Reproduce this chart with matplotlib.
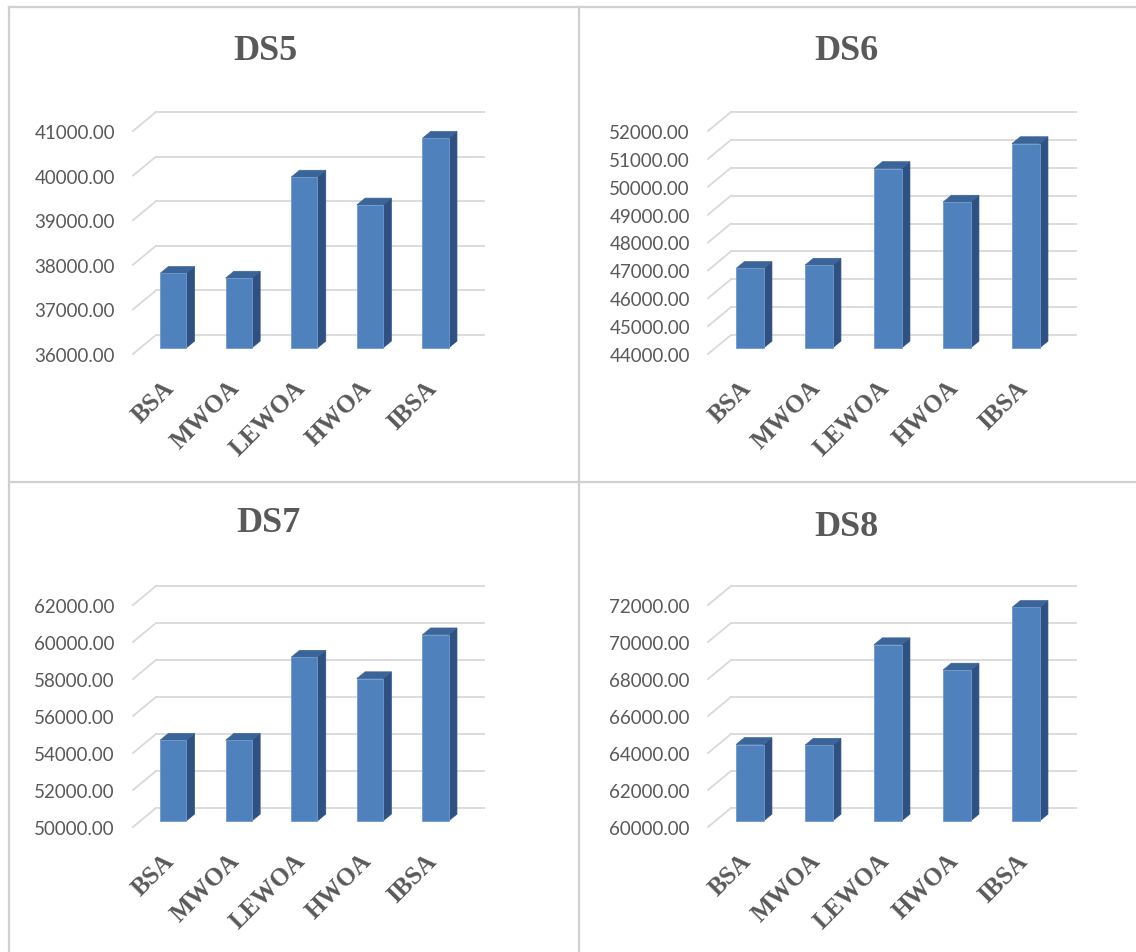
import numpy as np
import matplotlib
matplotlib.use('Agg')
import matplotlib.pyplot as plt
from matplotlib.patches import Polygon
from matplotlib.lines import Line2D

W, H = 1136, 953

algorithms = ['BSA', 'MWOA', 'LEWOA', 'HWOA', 'IBSA']

titles = ['DS5', 'DS6', 'DS7', 'DS8']
ds5 = [37670, 37565, 39830, 39205, 40700]
ds6 = [46850, 46970, 50435, 49230, 51330]
ds7 = [54360, 54360, 58850, 57690, 60060]
ds8 = [64130, 64095, 69525, 68155, 71540]
y_ranges = [(36000, 41000, 1000), (44000, 52000, 1000),
            (50000, 62000, 2000), (60000, 72000, 2000)]

FRONT = '#4F81BD'
SIDE = '#2F5181'
TOP = '#3B6598'
GRID = '#D9D9D9'
TEXT = '#595959'

# 3d look: depth of the back wall in pixels, bar placed in the middle of the depth
DX, DY = 23, 19
D0, D1 = 0.32, 0.68

# panel frames in pixels: front plane x0, x1, y top, y bottom, title x, title y
frames = [(133, 461, 132, 355, 265, 52),
          (708, 1053, 132, 355, 846, 52),
          (133, 461, 606, 828, 268, 524),
          (708, 1053, 606, 828, 846, 527)]

fig = plt.figure(figsize=(W / 100, H / 100), dpi=100)
fig.patch.set_facecolor('white')


def draw_panel(frame, title, values, yr):
    x0, x1, yt, yb, tx, ty = frame
    ymin, ymax, step = yr
    ax = fig.add_axes([x0 / W, 1 - yb / H, (x1 - x0) / W, (yb - yt) / H])
    ax.set_xlim(-0.5, 4.5)
    ax.set_ylim(ymin, ymax)
    ax.set_facecolor('none')
    for s in ax.spines.values():
        s.set_visible(False)

    # pixel offsets in data units
    ddx = DX * 5 / (x1 - x0)
    ddy = DY * (ymax - ymin) / (yb - yt)

    ticks = np.arange(ymin, ymax + step / 2, step)
    for t in ticks:
        ax.add_line(Line2D([-0.5 + ddx, 4.5 + ddx], [t + ddy, t + ddy],
                           color=GRID, lw=1.3, clip_on=False, zorder=1))
        ax.add_line(Line2D([-0.5, -0.5 + ddx], [t, t + ddy],
                           color=GRID, lw=1.3, clip_on=False, zorder=1))

    bw = 0.4
    bd = D1 - D0
    xs = np.arange(len(values))
    for i, v in zip(xs, values):
        left = i - bw / 2 + D0 * ddx
        right = left + bw
        bot = ymin + D0 * ddy
        top = v + D0 * ddy
        side = [(right, bot), (right + bd * ddx, bot + bd * ddy),
                (right + bd * ddx, top + bd * ddy), (right, top)]
        lid = [(left, top), (right, top), (right + bd * ddx, top + bd * ddy),
               (left + bd * ddx, top + bd * ddy)]
        ax.add_patch(Polygon(side, closed=True, facecolor=SIDE, edgecolor=SIDE,
                             lw=0.5, clip_on=False, zorder=2))
        ax.add_patch(Polygon(lid, closed=True, facecolor=TOP, edgecolor=TOP,
                             lw=0.5, clip_on=False, zorder=2))
    ax.bar(xs + D0 * ddx, np.array(values) - ymin, bottom=ymin + D0 * ddy,
           width=bw, color=FRONT, edgecolor='#6F9AD0', lw=0.6,
           clip_on=False, zorder=3)

    ax.set_yticks(ticks)
    ax.set_yticklabels(['%.2f' % t for t in ticks], fontfamily='Lato',
                       fontsize=13.5, color=TEXT)
    ax.tick_params(axis='y', length=0, pad=13)
    ax.set_xticks([])
    for i, name in zip(xs, algorithms):
        ax.annotate(name, xy=(i, ymin), xytext=(5, -30),
                    textcoords='offset pixels', rotation=45,
                    ha='right', va='center', rotation_mode='anchor',
                    fontfamily='Liberation Serif', fontweight='bold',
                    fontsize=18, color=TEXT)

    fig.text(tx / W, 1 - ty / H, title, ha='center', va='center',
             fontfamily='Liberation Serif', fontweight='bold',
             fontsize=26, color=TEXT)


for frame, title, values, yr in zip(frames, titles, [ds5, ds6, ds7, ds8], y_ranges):
    draw_panel(frame, title, values, yr)

# panel borders
border = dict(color='#D0D0D0', lw=1.6, transform=fig.transFigure)
fig.add_artist(Line2D([9 / W, 9 / W], [0, 1 - 8 / H], **border))
fig.add_artist(Line2D([9 / W, 1], [1 - 8 / H, 1 - 8 / H], **border))
fig.add_artist(Line2D([579 / W, 579 / W], [0, 1 - 8 / H], **border))
fig.add_artist(Line2D([9 / W, 1], [1 - 483 / H, 1 - 483 / H], **border))

fig.savefig('out.png', dpi=100)
